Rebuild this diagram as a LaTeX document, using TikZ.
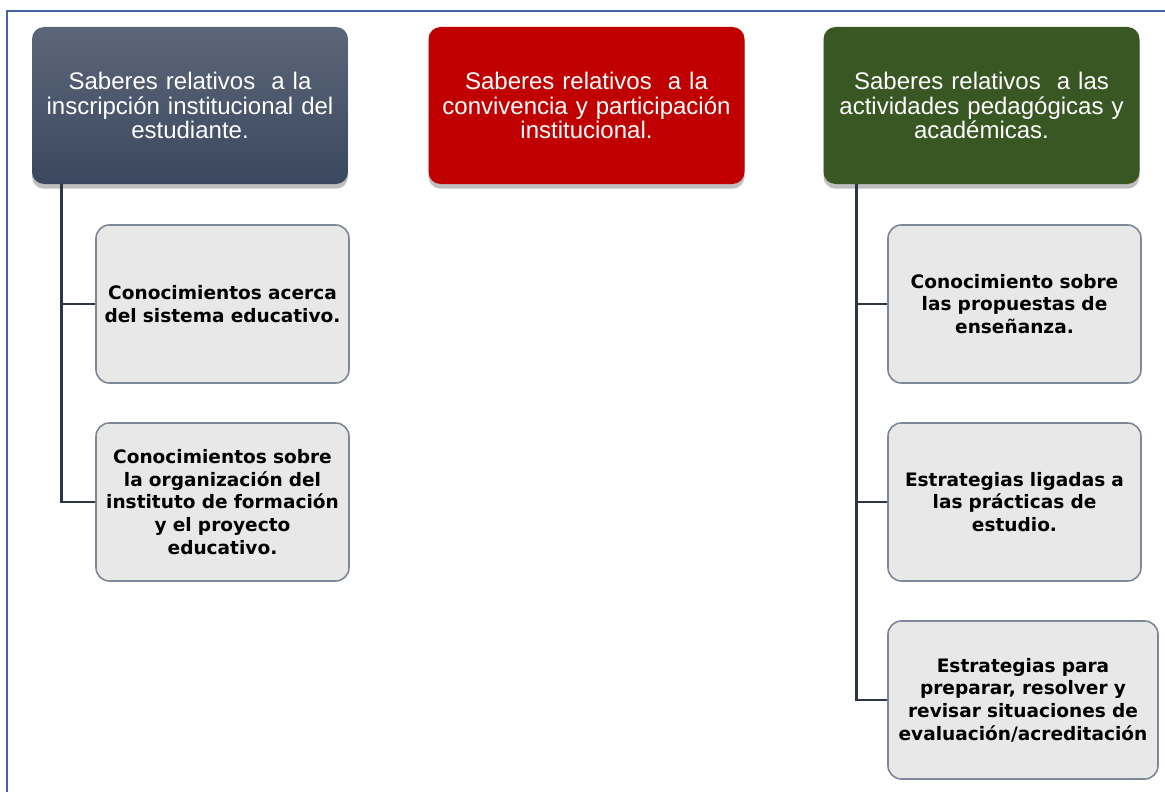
\documentclass[tikz,border=0pt]{standalone}
\usepackage{fontspec}
\setmainfont{Liberation Sans}
\newfontfamily\boxfont{DejaVu Sans}
\usetikzlibrary{shadows}
\definecolor{frameblue}{HTML}{4463A8}
\definecolor{slatetop}{HTML}{5C6679}
\definecolor{slatebot}{HTML}{3A485F}
\definecolor{headred}{HTML}{C00000}
\definecolor{headgreen}{HTML}{385723}
\definecolor{itemfill}{HTML}{E8E8E8}
\definecolor{itemline}{HTML}{7E8796}
\definecolor{linkcol}{HTML}{2C3646}
\tikzset{
  head/.style={rounded corners=9pt, minimum width=237pt, minimum height=117.75pt,
    text width=228pt, align=center, text=white, inner sep=0pt,
    font=\fontsize{18}{18.3}\selectfont,
    drop shadow={opacity=0.5, shadow xshift=0pt, shadow yshift=-3.5pt}},
  item/.style={draw=itemline, line width=1.2pt, fill=itemfill, rounded corners=10pt,
    minimum width=189.75pt, minimum height=118.5pt, text width=180pt, align=center,
    inner sep=0pt, font=\boxfont\bfseries\fontsize{13.9}{17}\selectfont},
  link/.style={draw=linkcol, line width=2.1pt}
}
\begin{document}
\begin{tikzpicture}[x=0.75pt,y=-0.75pt]
\useasboundingbox (0,0) rectangle (1165,792);
\draw[frameblue, line width=1.8pt] (7,800) -- (7,11) -- (1175,11);

\node[head, top color=slatetop, bottom color=slatebot] (blue) at (190,105.5)
  {Saberes relativos \ a la\\inscripción institucional del\\estudiante.};
\node[head, fill=headred] (red) at (586.5,105.5)
  {Saberes relativos \ a la\\convivencia y participación\\institucional.};
\node[head, fill=headgreen] (green) at (981.5,105.5)
  {Saberes relativos \ a las\\actividades pedagógicas y\\académicas.};

\node[item] (c1) at (222.5,304) {Conocimientos acerca\\del sistema educativo.};
\node[item] (c2) at (222.5,502) {Conocimientos sobre\\la organización del\\instituto de formación\\y el proyecto\\educativo.};

\node[item] (a1) at (1014.5,304) {Conocimiento sobre\\las propuestas de\\enseñanza.};
\node[item] (a2) at (1014.5,502) {Estrategias ligadas a\\las prácticas de\\estudio.};
\node[item, minimum width=202.5pt, text width=196pt] (a3) at (1023,700)
  {Estrategias para\\preparar, resolver y\\revisar situaciones de\\evaluación/acreditación};

\path[link] ([xshift=22.5pt]blue.south west) |- (c2.west);
\path[link] ([xshift=22.5pt]blue.south west) |- (c1.west);
\path[link] ([xshift=24.75pt]green.south west) |- (a3.west);
\path[link] ([xshift=24.75pt]green.south west) |- (a2.west);
\path[link] ([xshift=24.75pt]green.south west) |- (a1.west);
\end{tikzpicture}
\end{document}
